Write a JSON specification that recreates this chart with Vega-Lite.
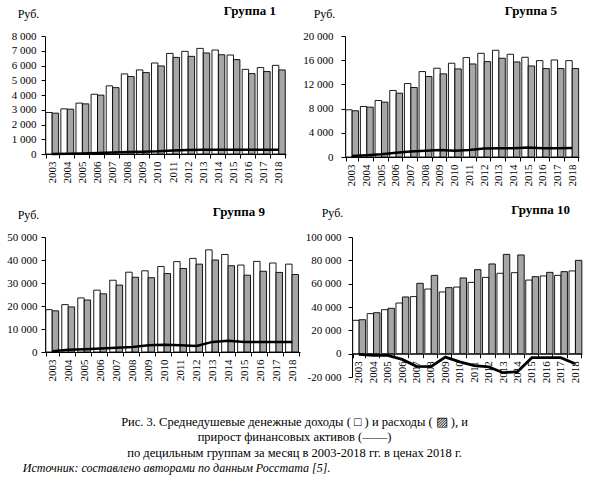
{
  "$schema": "https://vega.github.io/schema/vega-lite/v6.json",
  "padding": {"left": 6, "top": 5, "right": 2, "bottom": 2},
  "background": "white",
  "spacing": 18,
  "datasets": {
    "deciles": [
      {"g": 1, "year": "2003", "income": 2815, "expense": 2770, "assets": 0},
      {"g": 1, "year": "2004", "income": 3060, "expense": 3040, "assets": 10},
      {"g": 1, "year": "2005", "income": 3450, "expense": 3400, "assets": 30},
      {"g": 1, "year": "2006", "income": 4050, "expense": 3990, "assets": 70},
      {"g": 1, "year": "2007", "income": 4620, "expense": 4500, "assets": 100},
      {"g": 1, "year": "2008", "income": 5430, "expense": 5250, "assets": 135},
      {"g": 1, "year": "2009", "income": 5700, "expense": 5520, "assets": 160},
      {"g": 1, "year": "2010", "income": 6170, "expense": 5970, "assets": 180},
      {"g": 1, "year": "2011", "income": 6820, "expense": 6550, "assets": 230},
      {"g": 1, "year": "2012", "income": 6960, "expense": 6620, "assets": 270},
      {"g": 1, "year": "2013", "income": 7160, "expense": 6850, "assets": 290},
      {"g": 1, "year": "2014", "income": 7050, "expense": 6730, "assets": 290},
      {"g": 1, "year": "2015", "income": 6710, "expense": 6400, "assets": 290},
      {"g": 1, "year": "2016", "income": 5740, "expense": 5450, "assets": 280},
      {"g": 1, "year": "2017", "income": 5860, "expense": 5590, "assets": 280},
      {"g": 1, "year": "2018", "income": 6010, "expense": 5700, "assets": 290},
      {"g": 5, "year": "2003", "income": 7800, "expense": 7640, "assets": 150},
      {"g": 5, "year": "2004", "income": 8350, "expense": 8240, "assets": 300},
      {"g": 5, "year": "2005", "income": 9340, "expense": 9070, "assets": 450},
      {"g": 5, "year": "2006", "income": 11000, "expense": 10550, "assets": 700},
      {"g": 5, "year": "2007", "income": 12140, "expense": 11480, "assets": 900},
      {"g": 5, "year": "2008", "income": 14120, "expense": 13300, "assets": 1050},
      {"g": 5, "year": "2009", "income": 14670, "expense": 13740, "assets": 1150},
      {"g": 5, "year": "2010", "income": 15500, "expense": 14560, "assets": 1050},
      {"g": 5, "year": "2011", "income": 16430, "expense": 15380, "assets": 1150},
      {"g": 5, "year": "2012", "income": 17140, "expense": 15770, "assets": 1400},
      {"g": 5, "year": "2013", "income": 17640, "expense": 16320, "assets": 1450},
      {"g": 5, "year": "2014", "income": 16980, "expense": 15710, "assets": 1450},
      {"g": 5, "year": "2015", "income": 16480, "expense": 15050, "assets": 1550},
      {"g": 5, "year": "2016", "income": 15930, "expense": 14620, "assets": 1450},
      {"g": 5, "year": "2017", "income": 16040, "expense": 14620, "assets": 1450},
      {"g": 5, "year": "2018", "income": 15930, "expense": 14620, "assets": 1500},
      {"g": 9, "year": "2003", "income": 18400, "expense": 17900, "assets": 300},
      {"g": 9, "year": "2004", "income": 20600, "expense": 19600, "assets": 1000},
      {"g": 9, "year": "2005", "income": 23500, "expense": 22600, "assets": 1200},
      {"g": 9, "year": "2006", "income": 26900, "expense": 25300, "assets": 1500},
      {"g": 9, "year": "2007", "income": 31200, "expense": 29100, "assets": 1800},
      {"g": 9, "year": "2008", "income": 34700, "expense": 32500, "assets": 2200},
      {"g": 9, "year": "2009", "income": 35300, "expense": 32300, "assets": 2900},
      {"g": 9, "year": "2010", "income": 37200, "expense": 34100, "assets": 3100},
      {"g": 9, "year": "2011", "income": 39300, "expense": 36300, "assets": 2900},
      {"g": 9, "year": "2012", "income": 40700, "expense": 38200, "assets": 2600},
      {"g": 9, "year": "2013", "income": 44400, "expense": 40000, "assets": 4400},
      {"g": 9, "year": "2014", "income": 42400, "expense": 37500, "assets": 4900},
      {"g": 9, "year": "2015", "income": 37800, "expense": 33400, "assets": 4400},
      {"g": 9, "year": "2016", "income": 39400, "expense": 35100, "assets": 4300},
      {"g": 9, "year": "2017", "income": 38700, "expense": 34600, "assets": 4300},
      {"g": 9, "year": "2018", "income": 38200, "expense": 33700, "assets": 4300},
      {"g": 10, "year": "2003", "income": 28600, "expense": 29100, "assets": -600},
      {"g": 10, "year": "2004", "income": 34300, "expense": 35100, "assets": -1400},
      {"g": 10, "year": "2005", "income": 37700, "expense": 38900, "assets": -1400},
      {"g": 10, "year": "2006", "income": 43400, "expense": 48600, "assets": -4900},
      {"g": 10, "year": "2007", "income": 48900, "expense": 60300, "assets": -10900},
      {"g": 10, "year": "2008", "income": 55400, "expense": 67100, "assets": -11100},
      {"g": 10, "year": "2009", "income": 52900, "expense": 56600, "assets": -2900},
      {"g": 10, "year": "2010", "income": 57100, "expense": 64900, "assets": -7100},
      {"g": 10, "year": "2011", "income": 61100, "expense": 72000, "assets": -10300},
      {"g": 10, "year": "2012", "income": 65400, "expense": 76900, "assets": -11400},
      {"g": 10, "year": "2013", "income": 68900, "expense": 85100, "assets": -16300},
      {"g": 10, "year": "2014", "income": 69400, "expense": 84600, "assets": -15400},
      {"g": 10, "year": "2015", "income": 63100, "expense": 66000, "assets": -3400},
      {"g": 10, "year": "2016", "income": 66600, "expense": 69700, "assets": -3400},
      {"g": 10, "year": "2017", "income": 67100, "expense": 70300, "assets": -3400},
      {"g": 10, "year": "2018", "income": 70900, "expense": 80000, "assets": -8600}
    ]
  },
  "data": {"name": "deciles"},
  "title": {
    "text": "Источник: составлено авторами по данным Росстата [5].",
    "orient": "bottom",
    "anchor": "start",
    "fontStyle": "italic",
    "fontWeight": "normal",
    "fontSize": 12,
    "dx": 16,
    "offset": 4
  },
  "vconcat": [
    {
      "spacing": 16,
      "hconcat": [
        {
          "width": 241,
          "height": 118,
          "title": {"text": "Группа 1", "anchor": "end", "frame": "group", "dx": -10, "offset": -11},
          "transform": [
            {"filter": "datum.g === 1"},
            {"fold": ["income", "expense", "assets"], "as": ["kind", "value"]}
          ],
          "encoding": {
            "x": {
              "field": "year",
              "type": "nominal",
              "scale": {"paddingInner": 0.15, "paddingOuter": 0.05},
              "axis": {"title": null, "labelAngle": -90, "tickBand": "extent", "tickSize": 4, "labelPadding": 3}
            },
            "y": {
              "field": "value",
              "type": "quantitative",
              "scale": {"domain": [0, 8000]},
              "axis": {
                "values": [0, 1000, 2000, 3000, 4000, 5000, 6000, 7000, 8000],
                "format": ",.0f",
                "minExtent": 37,
                "labelPadding": 5,
                "title": "Руб.",
                "titleAngle": 0,
                "titleX": -17,
                "titleY": -23,
                "titleAlign": "center",
                "titleBaseline": "middle"
              }
            }
          },
          "layer": [
            {
              "transform": [{"filter": "datum.kind !== 'assets'"}],
              "mark": {"type": "bar", "stroke": "black", "strokeWidth": 0.9},
              "encoding": {
                "xOffset": {"field": "kind", "sort": ["income", "expense"], "scale": {"paddingInner": 0}},
                "fill": {"field": "kind", "scale": {"domain": ["income", "expense"], "range": ["white", "#a6a6a6"]}, "legend": null}
              }
            },
            {
              "transform": [{"filter": "datum.kind === 'assets'"}],
              "mark": {"type": "line", "color": "black", "strokeWidth": 2.5},
              "encoding": {}
            }
          ]
        },
        {
          "width": 234,
          "height": 121,
          "title": {"text": "Группа 5", "anchor": "end", "frame": "group", "dx": -22, "offset": -11},
          "transform": [
            {"filter": "datum.g === 5"},
            {"fold": ["income", "expense", "assets"], "as": ["kind", "value"]}
          ],
          "encoding": {
            "x": {
              "field": "year",
              "type": "nominal",
              "scale": {"paddingInner": 0.15, "paddingOuter": 0.05},
              "axis": {"title": null, "labelAngle": -90, "tickBand": "extent", "tickSize": 4, "labelPadding": 3}
            },
            "y": {
              "field": "value",
              "type": "quantitative",
              "scale": {"domain": [0, 20000]},
              "axis": {
                "values": [0, 4000, 8000, 12000, 16000, 20000],
                "format": ",.0f",
                "labelPadding": 8,
                "title": "Руб.",
                "titleAngle": 0,
                "titleX": -21,
                "titleY": -23,
                "titleAlign": "center",
                "titleBaseline": "middle"
              }
            }
          },
          "layer": [
            {
              "transform": [{"filter": "datum.kind !== 'assets'"}],
              "mark": {"type": "bar", "stroke": "black", "strokeWidth": 0.9},
              "encoding": {
                "xOffset": {"field": "kind", "sort": ["income", "expense"], "scale": {"paddingInner": 0}},
                "fill": {"field": "kind", "scale": {"domain": ["income", "expense"], "range": ["white", "#a6a6a6"]}, "legend": null}
              }
            },
            {
              "transform": [{"filter": "datum.kind === 'assets'"}],
              "mark": {"type": "line", "color": "black", "strokeWidth": 2.5},
              "encoding": {}
            }
          ]
        }
      ]
    },
    {
      "spacing": 5,
      "title": {
        "text": [
          "Рис. 3. Среднедушевые денежные доходы ( □ ) и расходы ( ▨ ), и",
          "прирост финансовых активов (——)",
          "по децильным группам за месяц в 2003-2018 гг. в ценах 2018 г."
        ],
        "orient": "bottom",
        "anchor": "middle",
        "fontWeight": "normal",
        "fontSize": 12.5,
        "lineHeight": 15.5,
        "offset": 33
      },
      "hconcat": [
        {
          "width": 255,
          "height": 115,
          "title": {"text": "Группа 9", "anchor": "end", "frame": "group", "dx": -35, "offset": -11},
          "transform": [
            {"filter": "datum.g === 9"},
            {"fold": ["income", "expense", "assets"], "as": ["kind", "value"]}
          ],
          "encoding": {
            "x": {
              "field": "year",
              "type": "nominal",
              "scale": {"paddingInner": 0.15, "paddingOuter": 0.05},
              "axis": {"title": null, "labelAngle": -90, "tickBand": "extent", "tickSize": 4, "labelPadding": 3}
            },
            "y": {
              "field": "value",
              "type": "quantitative",
              "scale": {"domain": [0, 50000]},
              "axis": {
                "values": [0, 10000, 20000, 30000, 40000, 50000],
                "format": ",.0f",
                "minExtent": 37,
                "labelPadding": 4,
                "title": "Руб.",
                "titleAngle": 0,
                "titleX": -17,
                "titleY": -23,
                "titleAlign": "center",
                "titleBaseline": "middle"
              }
            }
          },
          "layer": [
            {
              "transform": [{"filter": "datum.kind !== 'assets'"}],
              "mark": {"type": "bar", "stroke": "black", "strokeWidth": 0.9},
              "encoding": {
                "xOffset": {"field": "kind", "sort": ["income", "expense"], "scale": {"paddingInner": 0}},
                "fill": {"field": "kind", "scale": {"domain": ["income", "expense"], "range": ["white", "#a6a6a6"]}, "legend": null}
              }
            },
            {
              "transform": [{"filter": "datum.kind === 'assets'"}],
              "mark": {"type": "line", "color": "black", "strokeWidth": 2.5},
              "encoding": {}
            }
          ]
        },
        {
          "width": 230,
          "height": 140,
          "title": {"text": "Группа 10", "anchor": "end", "frame": "group", "dx": -12, "offset": -11},
          "transform": [
            {"filter": "datum.g === 10"},
            {"fold": ["income", "expense", "assets"], "as": ["kind", "value"]}
          ],
          "encoding": {
            "x": {
              "field": "year",
              "type": "nominal",
              "scale": {"paddingInner": 0.15, "paddingOuter": 0.05},
              "axis": {"title": null, "labelAngle": -90, "tickBand": "extent", "tickSize": 4, "labelPadding": 3, "offset": -23.3}
            },
            "y": {
              "field": "value",
              "type": "quantitative",
              "scale": {"domain": [-20000, 100000]},
              "axis": {
                "values": [-20000, 0, 20000, 40000, 60000, 80000, 100000],
                "format": ",.0f",
                "labelPadding": 7,
                "title": "Руб.",
                "titleAngle": 0,
                "titleX": -20,
                "titleY": -25,
                "titleAlign": "center",
                "titleBaseline": "middle"
              }
            }
          },
          "layer": [
            {
              "transform": [{"filter": "datum.kind !== 'assets'"}],
              "mark": {"type": "bar", "stroke": "black", "strokeWidth": 0.9},
              "encoding": {
                "xOffset": {"field": "kind", "sort": ["income", "expense"], "scale": {"paddingInner": 0}},
                "fill": {"field": "kind", "scale": {"domain": ["income", "expense"], "range": ["white", "#a6a6a6"]}, "legend": null}
              }
            },
            {
              "transform": [{"filter": "datum.kind === 'assets'"}],
              "mark": {"type": "line", "color": "black", "strokeWidth": 2.8},
              "encoding": {}
            }
          ]
        }
      ]
    }
  ],
  "config": {
    "font": "Liberation Serif",
    "view": {"stroke": null},
    "locale": {
      "number": {"decimal": ",", "thousands": " ", "grouping": [3], "currency": ["", ""], "minus": "-"}
    },
    "axis": {
      "grid": false,
      "labelFont": "Liberation Serif",
      "labelFontSize": 11,
      "labelColor": "black",
      "domainColor": "black",
      "tickColor": "black",
      "titleFont": "Liberation Serif",
      "titleFontSize": 12,
      "titleFontWeight": "normal",
      "titleColor": "black"
    },
    "axisY": {"tickSize": 4},
    "title": {"font": "Liberation Serif", "fontSize": 13, "fontWeight": "bold", "color": "black"}
  }
}
